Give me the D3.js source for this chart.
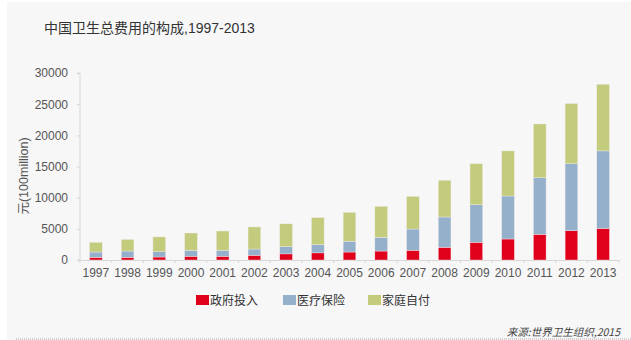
<!DOCTYPE html>
<html>
<head>
<meta charset="utf-8">
<script src="https://cdn.jsdelivr.net/npm/d3@7"></script>
<style>
  html, body { margin: 0; padding: 0; background: #ffffff; }
  svg { display: block; font-family: "Liberation Sans", Arial, "Noto Sans CJK SC", sans-serif; }
</style>
</head>
<body>
<svg id="chart" width="631" height="340"></svg>
<script>
const years = ["1997","1998","1999","2000","2001","2002","2003","2004","2005","2006","2007","2008","2009","2010","2011","2012","2013"];
const government = [430, 430, 480, 600, 600, 750, 980, 1140, 1280, 1440, 1560, 2040, 2840, 3370, 4120, 4700, 5080];
const insurance  = [850, 1010, 850, 960, 960, 1010, 1160, 1320, 1720, 2200, 3410, 4860, 6030, 6900, 9080, 10750, 12420];
const household  = [1560, 1860, 2370, 2770, 3090, 3540, 3660, 4340, 4650, 4960, 5230, 5900, 6580, 7230, 8620, 9650, 10700];
const seriesNames = ["政府投入", "医疗保险", "家庭自付"];
const seriesColors = ["#e1001b", "#94b0cb", "#c3cc7c"];
const yTicks = [0, 5000, 10000, 15000, 20000, 25000, 30000];
const title = "中国卫生总费用的构成,1997-2013";
const yLabel = "元(100million)";
const source = "来源:世界卫生组织,2015";

const svg = d3.select("#chart");

// panel background
svg.append("rect").attr("x", 7).attr("y", 2).attr("width", 624).attr("height", 338).attr("fill", "#f7f7f8");

// bottom dotted line
svg.append("line").attr("x1", 16).attr("x2", 631).attr("y1", 339).attr("y2", 339)
  .attr("stroke", "#aaa").attr("stroke-width", 1).attr("stroke-dasharray", "1,1");

svg.append("text").attr("x", 44).attr("y", 33).attr("fill", "#333")
  .style("font-size", "14px").style("font-family", "'Liberation Sans', 'Noto Sans CJK SC', sans-serif").text(title);

const x = d3.scaleBand().domain(years).range([80, 619]).paddingInner(0.6).paddingOuter(0.3);
const y = d3.scaleLinear().domain([0, 30000]).range([260, 73]);

const rows = years.map((yr, i) => ({ year: yr, g: government[i], ins: insurance[i], h: household[i] }));
const stack = d3.stack().keys(["g", "ins", "h"]);
const stacked = stack(rows);

// y axis
const yAxis = svg.append("g").attr("transform", "translate(80,0)")
  .call(d3.axisLeft(y).tickValues(yTicks).tickSize(3).tickPadding(9).tickFormat(d3.format("d")));
yAxis.select(".domain").attr("stroke", "#d6d6d6").attr("d", "M-3," + y(30000) + "H0V" + y(0) + "H-3");
yAxis.selectAll(".tick line").attr("stroke", "#d6d6d6");
yAxis.selectAll(".tick text").attr("fill", "#555").style("font-size", "12px");

// x axis
const xAxis = svg.append("g").attr("transform", "translate(0,260)")
  .call(d3.axisBottom(x).tickSize(0).tickPadding(8));
xAxis.select(".domain").attr("stroke", "#d6d6d6");
xAxis.selectAll(".tick text").attr("fill", "#555").style("font-size", "12px");
// boundary ticks
const step = x.step();
const x0 = x.range()[0];
xAxis.selectAll(".bnd").data(d3.range(years.length + 1)).enter().append("line")
  .attr("x1", i => x0 + i * step).attr("x2", i => x0 + i * step)
  .attr("y1", 0).attr("y2", 3).attr("stroke", "#d6d6d6");

// bars
svg.append("g").selectAll("g").data(stacked).enter().append("g")
  .attr("fill", (d, i) => seriesColors[i])
  .selectAll("rect").data(d => d).enter().append("rect")
  .attr("x", d => x(d.data.year))
  .attr("width", x.bandwidth())
  .attr("y", d => y(d[1]))
  .attr("height", d => y(d[0]) - y(d[1]))
  .attr("stroke", "#f4e8ea").attr("stroke-width", 0.4);

// y label
svg.append("text").attr("transform", "translate(28,176) rotate(-90)")
  .attr("text-anchor", "middle").attr("fill", "#555")
  .style("font-size", "12.5px").text(yLabel);

// legend
const legendX = [196, 283, 368];
const lg = svg.append("g").selectAll("g").data(seriesNames).enter().append("g")
  .attr("transform", (d, i) => "translate(" + legendX[i] + ",295)");
lg.append("rect").attr("width", 13).attr("height", 10).attr("fill", (d, i) => seriesColors[i]);
lg.append("text").attr("x", 14).attr("y", 9.5).attr("fill", "#333")
  .style("font-size", "12px").style("font-family", "'Noto Sans CJK SC', sans-serif").text(d => d);

// source
svg.append("text").attr("x", 620).attr("y", 336).attr("text-anchor", "end").attr("fill", "#444")
  .style("font-size", "10.5px").style("font-family", "'Noto Sans CJK SC', serif").style("font-style", "italic").text(source);
</script>
</body>
</html>
